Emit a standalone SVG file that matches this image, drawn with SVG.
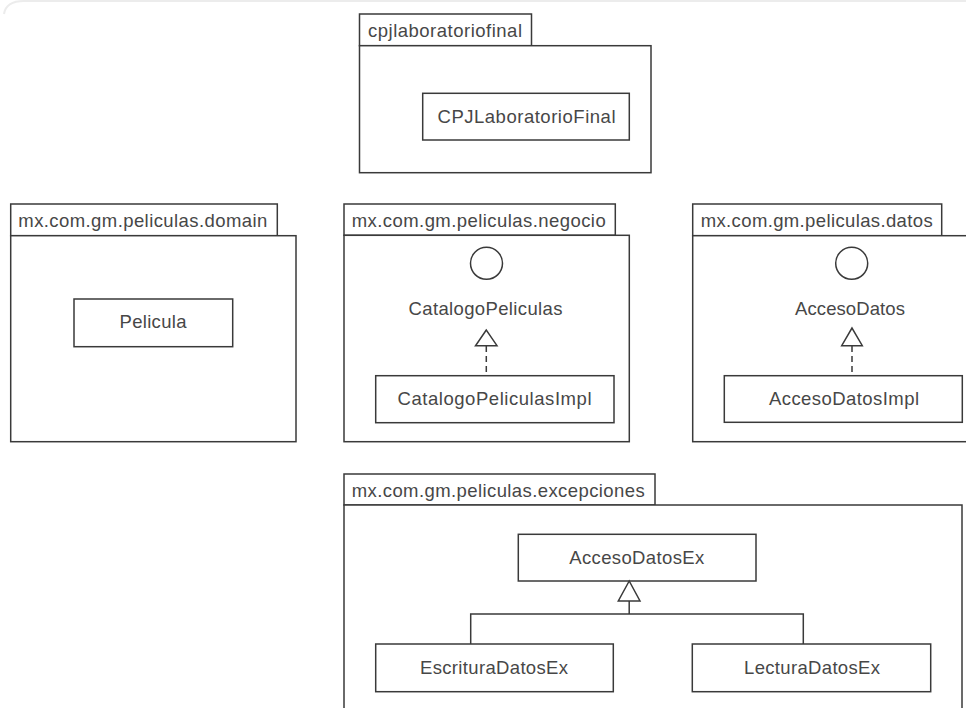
<svg xmlns="http://www.w3.org/2000/svg" width="966" height="708" viewBox="0 0 966 708">
<style>
.pk{fill:#fff;stroke:#3a3a3a;stroke-width:1.5}
.cl{fill:#fff;stroke:#3a3a3a;stroke-width:1.5}
.t{font-family:"Liberation Sans",Arial,sans-serif;font-size:18.5px;fill:#474747;text-anchor:middle}
.tl{font-family:"Liberation Sans",Arial,sans-serif;font-size:18.5px;fill:#474747}
.ln{fill:none;stroke:#3a3a3a;stroke-width:1.5}
.dash{fill:none;stroke:#3a3a3a;stroke-width:1.5;stroke-dasharray:6 4}
.tri{fill:#fff;stroke:#3a3a3a;stroke-width:1.5}
</style>
<rect width="966" height="708" fill="#fff"/>
<path d="M4,14 Q6,1 24,1 L966,1" fill="none" stroke="#ececec" stroke-width="2"/>

<g id="pkg-cpjlaboratoriofinal">
<rect class="pk" x="359.5" y="14" width="172" height="31.7"/>
<rect class="pk" x="359.5" y="45.7" width="291.5" height="127"/>
<text class="tl" x="368" y="37" textLength="154" lengthAdjust="spacing">cpjlaboratoriofinal</text>
</g>
<g id="cls-CPJLaboratorioFinal">
<rect class="cl" x="422.7" y="93.3" width="206.6" height="46.7"/>
<text class="t" x="526.5" y="123" textLength="178" lengthAdjust="spacing">CPJLaboratorioFinal</text>
</g>

<g id="pkg-domain">
<rect class="pk" x="10.7" y="204" width="266.6" height="31.7"/>
<rect class="pk" x="10.7" y="235.7" width="285.3" height="206"/>
<text class="tl" x="18.3" y="226.5" textLength="249" lengthAdjust="spacing">mx.com.gm.peliculas.domain</text>
</g>
<g id="cls-Pelicula">
<rect class="cl" x="74" y="299" width="158.7" height="47.7"/>
<text class="t" x="153" y="328" textLength="67" lengthAdjust="spacing">Pelicula</text>
</g>

<g id="pkg-negocio">
<rect class="pk" x="344" y="204" width="271.3" height="31.3"/>
<rect class="pk" x="344" y="235.3" width="285.3" height="206.4"/>
<text class="tl" x="351.7" y="226.5" textLength="254" lengthAdjust="spacing">mx.com.gm.peliculas.negocio</text>
</g>
<g id="if-CatalogoPeliculas">
<circle class="cl" cx="486.5" cy="263.3" r="16"/>
<text class="t" x="485.5" y="315" textLength="154" lengthAdjust="spacing">CatalogoPeliculas</text>
</g>
<g id="cls-CatalogoPeliculasImpl">
<rect class="cl" x="375.7" y="375.7" width="238.3" height="47"/>
<text class="t" x="494.5" y="405" textLength="194" lengthAdjust="spacing">CatalogoPeliculasImpl</text>
</g>

<g id="pkg-datos">
<rect class="pk" x="692.7" y="204" width="249" height="31.7"/>
<rect class="pk" x="692.7" y="235.7" width="290" height="206"/>
<text class="tl" x="700.7" y="226.5" textLength="232" lengthAdjust="spacing">mx.com.gm.peliculas.datos</text>
</g>
<g id="if-AccesoDatos">
<circle class="cl" cx="851.7" cy="263.3" r="16"/>
<text class="t" x="850" y="315" textLength="110" lengthAdjust="spacing">AccesoDatos</text>
</g>
<g id="cls-AccesoDatosImpl">
<rect class="cl" x="724.3" y="375.7" width="238" height="46.6"/>
<text class="t" x="844" y="405" textLength="150" lengthAdjust="spacing">AccesoDatosImpl</text>
</g>

<g id="pkg-excepciones">
<rect class="pk" x="344" y="474" width="311" height="31"/>
<rect class="pk" x="344" y="505" width="618" height="220"/>
<text class="tl" x="351.7" y="496.5" textLength="293" lengthAdjust="spacing">mx.com.gm.peliculas.excepciones</text>
</g>
<g id="cls-AccesoDatosEx">
<rect class="cl" x="518.3" y="534.3" width="237.7" height="46.7"/>
<text class="t" x="636.7" y="563.5" textLength="135" lengthAdjust="spacing">AccesoDatosEx</text>
</g>
<g id="cls-EscrituraDatosEx">
<rect class="cl" x="375.7" y="644" width="237.6" height="47.7"/>
<text class="t" x="494" y="673.5" textLength="148" lengthAdjust="spacing">EscrituraDatosEx</text>
</g>
<g id="cls-LecturaDatosEx">
<rect class="cl" x="692.3" y="644" width="238.4" height="47.7"/>
<text class="t" x="812" y="673.5" textLength="136" lengthAdjust="spacing">LecturaDatosEx</text>
</g>

<g id="connectors">
<path class="dash" d="M486.3,346 L486.3,375.7"/>
<polygon class="tri" points="486.3,330 475.5,345.7 497,345.7"/>
<path class="dash" d="M852,346 L852,375.7"/>
<polygon class="tri" points="852,328 841.7,345.7 862.3,345.7"/>
<path class="ln" d="M629.2,601 L629.2,614 M470.7,644 L470.7,614 L803.3,614 L803.3,644"/>
<polygon class="tri" points="629.2,581 618.3,601 640,601"/>
</g>
</svg>
